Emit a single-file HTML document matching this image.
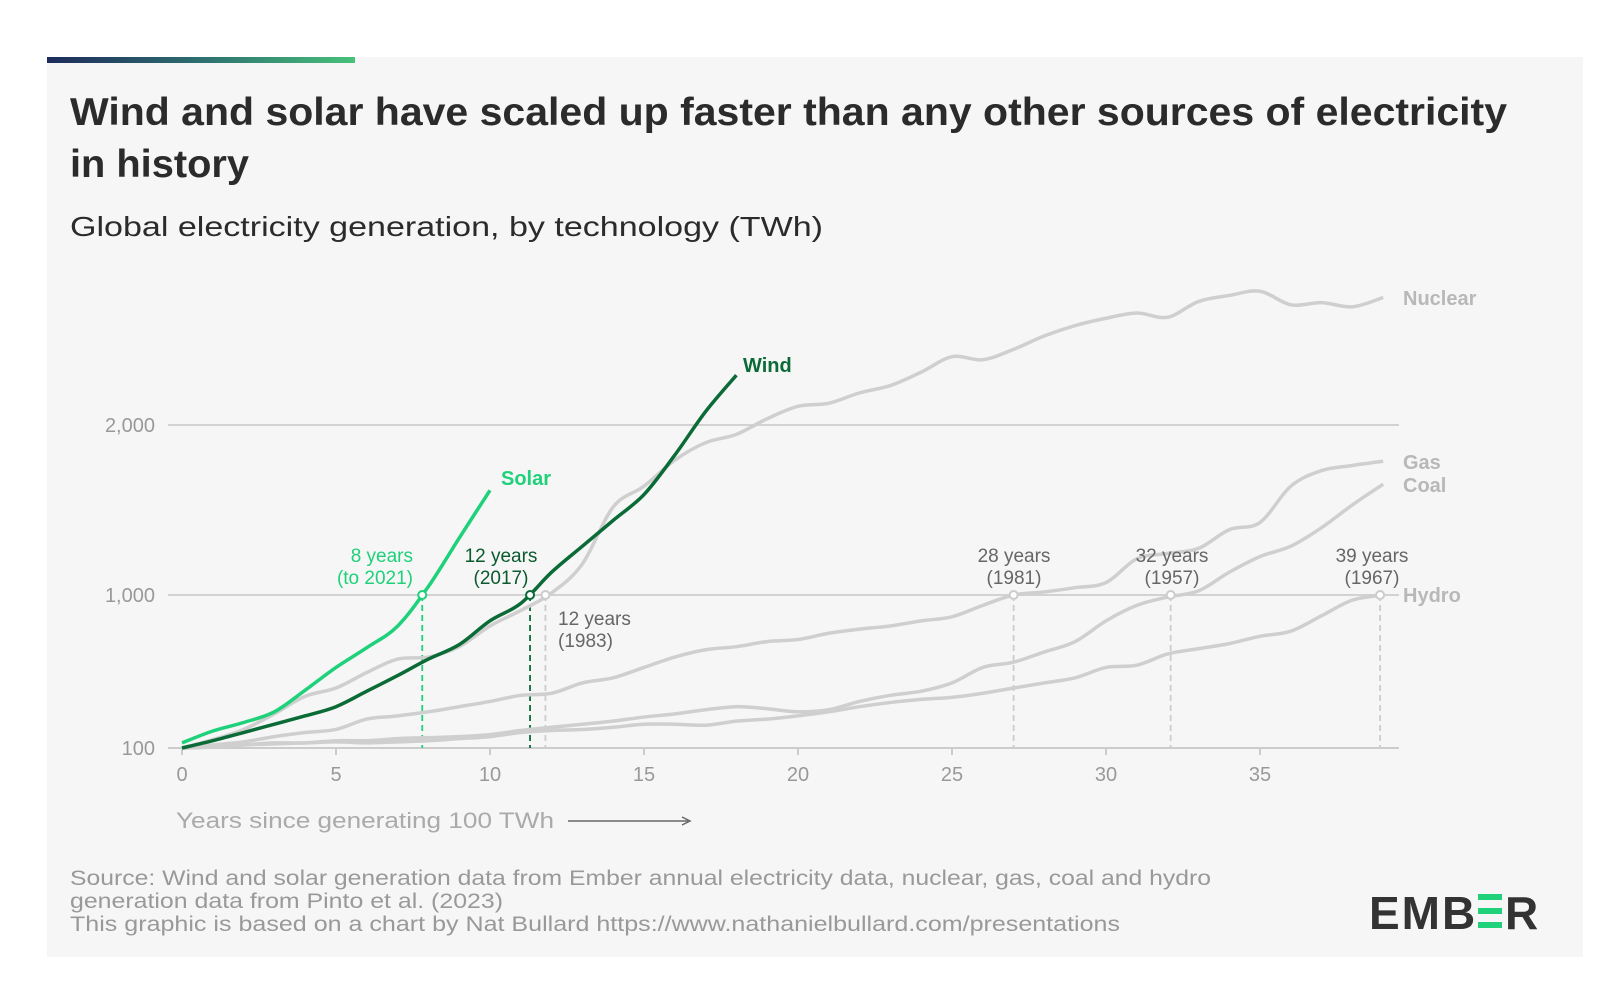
<!DOCTYPE html>
<html><head><meta charset="utf-8"><style>
body{margin:0;background:#fff;width:1618px;height:988px;overflow:hidden;font-family:"Liberation Sans",sans-serif}
#card{position:absolute;left:47px;top:57px;width:1536px;height:900px;background:#f6f6f6}
#bar{position:absolute;left:47px;top:57px;width:308px;height:6px;background:linear-gradient(90deg,#1d2b5a,#2e6f70,#46c17a)}
svg{position:absolute;left:0;top:0}
</style></head><body>
<div id="card"></div>
<div id="bar"></div>
<svg id="chart" width="1618" height="988" font-family="Liberation Sans, sans-serif">
<text x="70" y="125" font-size="39" font-weight="bold" fill="#2b2b2b" textLength="1437" lengthAdjust="spacingAndGlyphs">Wind and solar have scaled up faster than any other sources of electricity</text>
<text x="70" y="177" font-size="39" font-weight="bold" fill="#2b2b2b" textLength="179" lengthAdjust="spacingAndGlyphs">in history</text>
<text x="70" y="236" font-size="28" fill="#2b2b2b" textLength="753" lengthAdjust="spacingAndGlyphs">Global electricity generation, by technology (TWh)</text>
<text x="176" y="828" font-size="22" fill="#aaa" textLength="378" lengthAdjust="spacingAndGlyphs">Years since generating 100 TWh</text>
<line x1="568" y1="821" x2="688" y2="821" stroke="#666" stroke-width="1.5"/>
<path d="M682 817 L690 821 L682 825" fill="none" stroke="#666" stroke-width="1.5"/>
<text x="70" y="885" font-size="21" fill="#999" textLength="1141" lengthAdjust="spacingAndGlyphs">Source: Wind and solar generation data from Ember annual electricity data, nuclear, gas, coal and hydro</text>
<text x="70" y="908" font-size="21" fill="#999" textLength="433" lengthAdjust="spacingAndGlyphs">generation data from Pinto et al. (2023)</text>
<text x="70" y="931" font-size="21" fill="#999" textLength="1050" lengthAdjust="spacingAndGlyphs">This graphic is based on a chart by Nat Bullard https://www.nathanielbullard.com/presentations</text>
<g>
<text x="1369" y="929" font-size="46" font-weight="bold" fill="#333" letter-spacing="2">EMB</text>
<rect x="1478" y="894" width="24" height="6" fill="#1fd17a"/><rect x="1478" y="908" width="24" height="6" fill="#1fd17a"/><rect x="1478" y="922" width="24" height="6" fill="#1fd17a"/>
<text x="1505" y="929" font-size="46" font-weight="bold" fill="#333">R</text>
</g>
<g id="plot"></g>
</svg>
<script>
const yTicks=[100,1000,2000];
const xTicks=[0,5,10,15,20,25,30,35];
const solar=[130,200,250,313,440,574,690,817,1050,1335,1616];
const wind=[100,143,191,240,289,343,434,526,623,708,848,951,1134,1287,1439,1591,1823,2079,2293];
const nuclear=[100,149,209,301,404,453,544,623,635,696,818,909,1012,1183,1518,1640,1793,1896,1945,2037,2110,2128,2189,2232,2311,2402,2384,2445,2524,2585,2628,2659,2634,2726,2762,2787,2707,2720,2695,2750];
const gas=[100,118,136,167,191,209,270,289,313,343,374,410,422,483,513,574,635,678,696,726,738,775,799,818,848,872,939,1000,1018,1043,1073,1213,1244,1274,1384,1427,1640,1732,1762,1787];
const coal=[100,106,118,130,130,143,143,155,161,167,179,203,222,240,258,282,301,325,343,331,313,325,374,410,434,483,574,605,665,726,848,939,988,1024,1134,1226,1287,1396,1530,1652];
const hydro=[100,106,118,124,130,136,130,136,143,155,167,191,203,209,222,240,240,234,258,270,289,313,343,368,386,398,422,453,483,513,574,587,653,684,714,757,787,878,970,1000];
const milestones=[7.8,11.3,11.8,27,32.1,38.9];
const NS="http://www.w3.org/2000/svg";
const X=v=>182+v*30.8;
function Y(v){if(v<=1000)return 748-(v-100)/900*153;if(v<=2000)return 595-(v-1000)/1000*170;return 425-(v-2000)/1000*170;}
const g=document.getElementById('plot');
function el(t,a,p){const e=document.createElementNS(NS,t);for(const k in a)e.setAttribute(k,a[k]);(p||g).appendChild(e);return e;}
yTicks.forEach(t=>{const l=el('line',{x1:168,x2:1399,y1:Y(t),y2:Y(t),stroke:t==100?'#ccc':'#d2d2d2','stroke-width':2});


const tx=el('text',{x:155,y:Y(t)+7,'text-anchor':'end','font-size':20,fill:'#999'});tx.textContent=t.toLocaleString('en-US');

});
xTicks.forEach(t=>{el('line',{x1:X(t),x2:X(t),y1:748,y2:755,stroke:'#ccc','stroke-width':2});
const tx=el('text',{x:X(t),y:781,'text-anchor':'middle','font-size':20,fill:'#999'});tx.textContent=t;

});
milestones.forEach((m,i)=>{const l=el('line',{x1:X(m),x2:X(m),y1:Y(1000),y2:748,stroke:i==0?'#1fd17a':i==1?'#0b6b37':'#ccc','stroke-width':1.8,'stroke-dasharray':'6,4'});

});
function path(arr){const p=arr.map((v,i)=>[X(i),Y(v)]);let d='M'+p[0];for(let i=0;i<p.length-1;i++){const p0=p[i-1]||p[i],p1=p[i],p2=p[i+1],p3=p[i+2]||p2;
d+=` C${p1[0]+(p2[0]-p0[0])/6},${p1[1]+(p2[1]-p0[1])/6} ${p2[0]-(p3[0]-p1[0])/6},${p2[1]-(p3[1]-p1[1])/6} ${p2[0]},${p2[1]}`;}return d;}
[[hydro,'#cfcfcf','hydro'],[coal,'#cfcfcf','coal'],[gas,'#cfcfcf','gas'],[nuclear,'#cfcfcf','nuclear'],[solar,'#1fd17a','solar'],[wind,'#0b6b37','wind']].forEach(s=>{
const p=el('path',{d:path(s[0]),fill:'none',stroke:s[1],'stroke-width':3.5,'stroke-linejoin':'round'});

});
milestones.forEach((m,i)=>{const c=el('circle',{cx:X(m),cy:Y(1000),r:4,fill:'#fff',stroke:i==0?'#1fd17a':i==1?'#0b6b37':'#ccc','stroke-width':2});

});
function lab(txt,x,y,anchor,col,bold,size){const t=el('text',{x:x,y:y,'text-anchor':anchor,fill:col,'font-size':size||19,'font-weight':bold?'bold':'normal'});t.textContent=txt;

}
lab('Nuclear',1403,305,'start','#b8b8b8',true,20);
lab('Wind',743,372,'start','#0b6b37',true,20);
lab('Solar',501,485,'start','#1fd17a',true,20);
lab('Gas',1403,469,'start','#b8b8b8',true,20);
lab('Coal',1403,492,'start','#b8b8b8',true,20);
lab('Hydro',1403,602,'start','#b8b8b8',true,20);
lab('8 years',413,562,'end','#1fd17a');lab('(to 2021)',413,584,'end','#1fd17a');
lab('12 years',501,562,'middle','#0b5a2e');lab('(2017)',501,584,'middle','#0b5a2e');
lab('12 years',558,625,'start','#666');lab('(1983)',558,647,'start','#666');
lab('28 years',1014,562,'middle','#666');lab('(1981)',1014,584,'middle','#666');
lab('32 years',1172,562,'middle','#666');lab('(1957)',1172,584,'middle','#666');
lab('39 years',1372,562,'middle','#666');lab('(1967)',1372,584,'middle','#666');
</script>
</body></html>
